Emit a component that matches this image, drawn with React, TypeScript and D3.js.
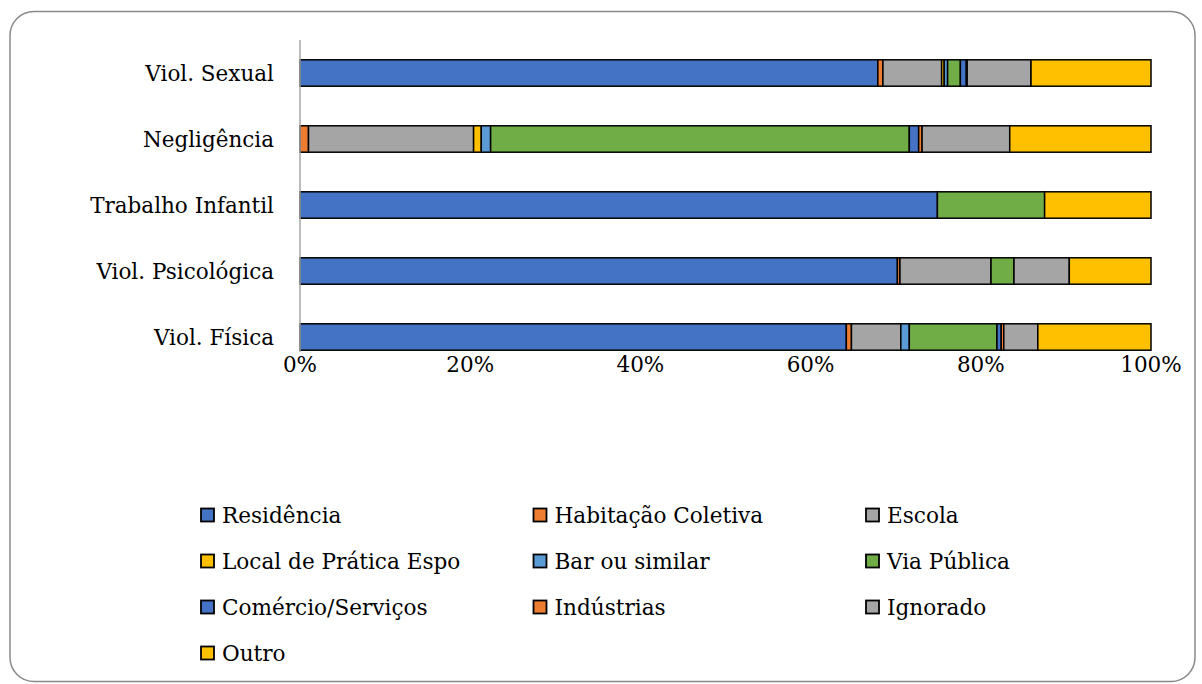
import React from "react";
import * as d3 from "d3";

const categories = ["Viol. Sexual", "Negligência", "Trabalho Infantil", "Viol. Psicológica", "Viol. Física"];

const seriesNames = [
  "Residência",
  "Habitação Coletiva",
  "Escola",
  "Local de Prática Espo",
  "Bar ou similar",
  "Via Pública",
  "Comércio/Serviços",
  "Indústrias",
  "Ignorado",
  "Outro",
];

// percent per category, same order as categories
const residencia = [67.9, 0, 74.9, 70.2, 64.2];
const habitacao = [0.6, 1.0, 0, 0.3, 0.6];
const escola = [6.9, 19.4, 0, 10.7, 5.8];
const localPratica = [0.3, 0.9, 0, 0, 0];
const bar = [0.4, 1.1, 0, 0, 1.0];
const viaPublica = [1.5, 49.2, 12.6, 2.7, 10.3];
const comercio = [0.7, 1.1, 0, 0, 0.5];
const industrias = [0.1, 0.4, 0, 0, 0.3];
const ignorado = [7.5, 10.3, 0, 6.5, 4.0];
const outro = [14.1, 16.6, 12.5, 9.6, 13.3];

const seriesValues = [residencia, habitacao, escola, localPratica, bar, viaPublica, comercio, industrias, ignorado, outro];

const tickLabels = ["0%", "20%", "40%", "60%", "80%", "100%"];

const palette = ["#4472C4", "#ED7D31", "#A5A5A5", "#FFC000", "#5B9BD5", "#70AD47"];

const W = 1202, H = 684;
const font = "'DejaVu Serif', serif";

const App = () => {
  const x = d3.scaleLinear().domain([0, 1]).range([300, 1151]);
  const y = d3.scaleBand().domain(categories).range([40, 370]).paddingInner(0.6).paddingOuter(0.3);

  const rows = categories.map((c, i) => {
    const r: any = { cat: c };
    seriesNames.forEach((s, k) => (r[s] = seriesValues[k][i]));
    return r;
  });
  const stack = d3.stack<any>().keys(seriesNames).offset(d3.stackOffsetExpand)(rows);
  const color = (k: number) => palette[k % palette.length];

  const ticks = x.ticks(5);

  return (
    <svg width={W} height={H} style={{ position: "absolute", left: 0, top: 0 }}>
      <rect x={10} y={11.5} width={1185} height={670} rx={24} fill="#fff" stroke="#898989" strokeWidth={1.5} />
      {stack.map((layer, k) =>
        layer.map((d, i) => {
          if (d[1] - d[0] <= 0) return null;
          return (
            <rect
              key={`${k}-${i}`}
              x={x(d[0])}
              y={y(categories[i])}
              width={x(d[1]) - x(d[0])}
              height={y.bandwidth()}
              fill={color(k)}
              stroke="#000"
              strokeWidth={1.5}
            />
          );
        })
      )}
      <line x1={300} x2={300} y1={40} y2={352} stroke="#a6a6a6" strokeWidth={1.5} />
      {categories.map((c) => (
        <text key={c} x={274} y={y(c)! + y.bandwidth() / 2} dy="0.35em" textAnchor="end" fontFamily={font} fontSize={21.5} fill="#000">
          {c}
        </text>
      ))}
      {ticks.map((t, i) => (
        <text key={i} x={x(t)} y={364} dy="0.35em" textAnchor="middle" fontFamily={font} fontSize={21.5} fill="#000">
          {tickLabels[i]}
        </text>
      ))}
      {seriesNames.map((s, k) => {
        const col = k % 3;
        const row = Math.floor(k / 3);
        const mx = 201 + col * 332.5;
        const my = 515 + row * 46;
        return (
          <g key={s}>
            <rect x={mx} y={my - 6.5} width={13} height={13} fill={color(k)} stroke="#000" strokeWidth={1.8} />
            <text x={mx + 21} y={my} dy="0.35em" fontFamily={font} fontSize={21.6} fill="#000">
              {s}
            </text>
          </g>
        );
      })}
    </svg>
  );
};

export default App;
